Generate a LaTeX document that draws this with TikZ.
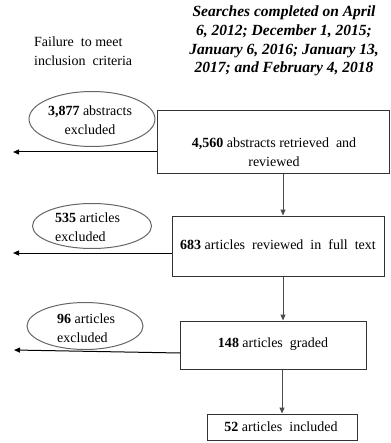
\documentclass[tikz,border=0pt]{standalone}
\usepackage{fontspec}
\setmainfont{Liberation Serif}[
  BoldFont={Liberation Serif Bold},
  ItalicFont={Liberation Serif Italic},
  BoldItalicFont={Liberation Serif Bold Italic}]
\usetikzlibrary{arrows.meta,shapes.geometric,calc}
\begin{document}
\begin{tikzpicture}[x=1pt,y=-1pt,
  box/.style={draw=black!80,line width=1pt,rectangle,inner sep=0pt},
  ell/.style={draw=black!60,line width=1pt,ellipse,inner sep=0pt},
  harr/.style={draw=black,line width=1pt,-{Triangle[length=6pt,width=5pt]}},
  varr/.style={draw=black!70,line width=1pt,-{Triangle[length=6pt,width=5pt]}},
  txt/.style={font=\fontsize{14}{18.5}\selectfont,inner sep=0pt}
]
\useasboundingbox (0,0) rectangle (390,443);

% header texts
\node[font=\fontsize{15.5}{18.7}\selectfont\bfseries\itshape,align=center,inner sep=0pt] (title) at (284,41) {Searches completed on April\\6, 2012; December 1, 2015;\\January 6, 2016; January 13,\\2017; and February 4, 2018};
\node[txt,align=left,anchor=west] (fail) at (34,51) {Failure\ \ to meet\\inclusion\ \ criteria};

% main boxes
\node[box,minimum width=232pt,minimum height=63pt] (box1) at (273,142.5) {};
\node[txt,align=center] (t1) at (274,152) {\textbf{4,560} abstracts retrieved\ \ and\\reviewed};
\node[box,minimum width=212pt,minimum height=60pt] (box2) at (278,246) {};
\node[txt] (t2) at (278,245) {\textbf{683} articles\ \ reviewed\ \ in\ \ full\ \ text};
\node[box,minimum width=186pt,minimum height=48pt] (box3) at (273,345) {};
\node[txt] (t3) at (273,344) {\textbf{148} articles\ \ graded};
\node[box,minimum width=150pt,minimum height=26pt] (box4) at (282,427) {};
\node[txt] (t4) at (281,427) {\textbf{52} articles\ \ included};

% exclusion ellipses
\node[ell,minimum width=126pt,minimum height=55pt] (e1) at (92,119) {};
\node[txt,align=center] (et1) at (90,120) {\textbf{3,877} abstracts\\excluded};
\node[ell,minimum width=119pt,minimum height=45pt] (e2) at (92,226) {};
\node[txt,align=left,anchor=west] (et2) at (55,227) {\textbf{535} articles\\excluded};
\node[ell,minimum width=116pt,minimum height=47pt] (e3) at (85,326) {};
\node[txt,align=left,anchor=west] (et3) at (57,328) {\textbf{96} articles\\excluded};

% arrow end points
\coordinate (x1) at (13,152);
\coordinate (x2) at (13,253);
\coordinate (x3) at (14,350);
\coordinate (s3) at (180,353);
\coordinate (v) at (283,0);
\coordinate (w) at (282,0);

\draw[harr] (box1.west |- x1) -- (x1);
\draw[harr] (box2.west |- x2) -- (x2);
\draw[harr] (s3) -- (x3);

\draw[varr] (box1.south -| v) -- (box2.north -| v);
\draw[varr] (box2.south -| v) -- (box3.north -| v);
\draw[varr] (box3.south -| w) -- (box4.north -| w);
\end{tikzpicture}
\end{document}
